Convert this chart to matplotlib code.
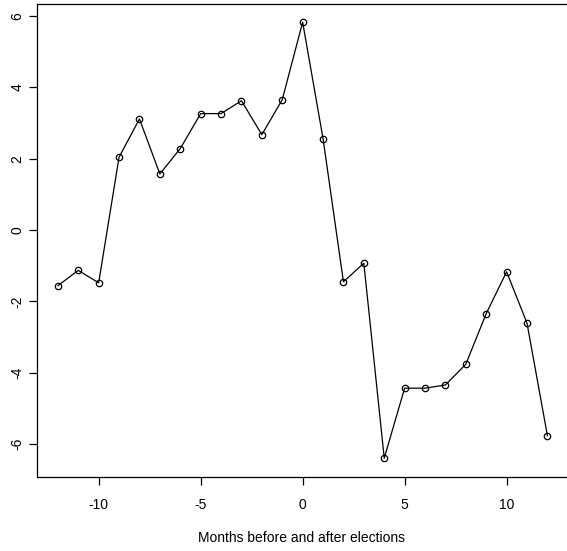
import matplotlib
matplotlib.use("Agg")
import matplotlib.pyplot as plt

# Daten: Monate relativ zur Wahl und Messwert
monate = [-12, -11, -10, -9, -8, -7, -6, -5, -4, -3, -2, -1, 0,
          1, 2, 3, 4, 5, 6, 7, 8, 9, 10, 11, 12]
werte = [-1.56, -1.13, -1.48, 2.04, 3.11, 1.57, 2.28, 3.26, 3.26, 3.62,
         2.67, 3.65, 5.82, 2.56, -1.45, -0.93, -6.39, -4.43, -4.43, -4.34,
         -3.76, -2.34, -1.17, -2.61, -5.76]
x_ticks = [-10, -5, 0, 5, 10]
y_ticks = [-6, -4, -2, 0, 2, 4, 6]

plt.rcParams.update({
    "font.family": ["Liberation Sans", "DejaVu Sans"],
    "font.size": 10,
    "axes.unicode_minus": False,
})

fig = plt.figure(figsize=(5.67, 5.51), dpi=100)
ax = fig.add_axes([0.065, 0.1348, 0.935, 0.8573])

ax.plot(monate, werte, color="black", linewidth=0.9,
        marker="o", markersize=4.6, markerfacecolor="none",
        markeredgecolor="black", markeredgewidth=0.9)

ax.set_xlim(-13.03, 12.96)
ax.set_ylim(-6.91, 6.32)
ax.set_xticks(x_ticks)
ax.set_yticks(y_ticks)
ax.set_yticklabels([str(v) for v in y_ticks], rotation=90, va="center")
ax.tick_params(axis="both", length=6, width=0.9, labelsize=10)
ax.tick_params(axis="x", pad=9)
ax.tick_params(axis="y", pad=3)
for s in ax.spines.values():
    s.set_linewidth(0.9)
ax.spines["right"].set_visible(False)

ax.set_xlabel("Months before and after elections", fontsize=10, labelpad=14)

fig.savefig("out.png", dpi=100)
